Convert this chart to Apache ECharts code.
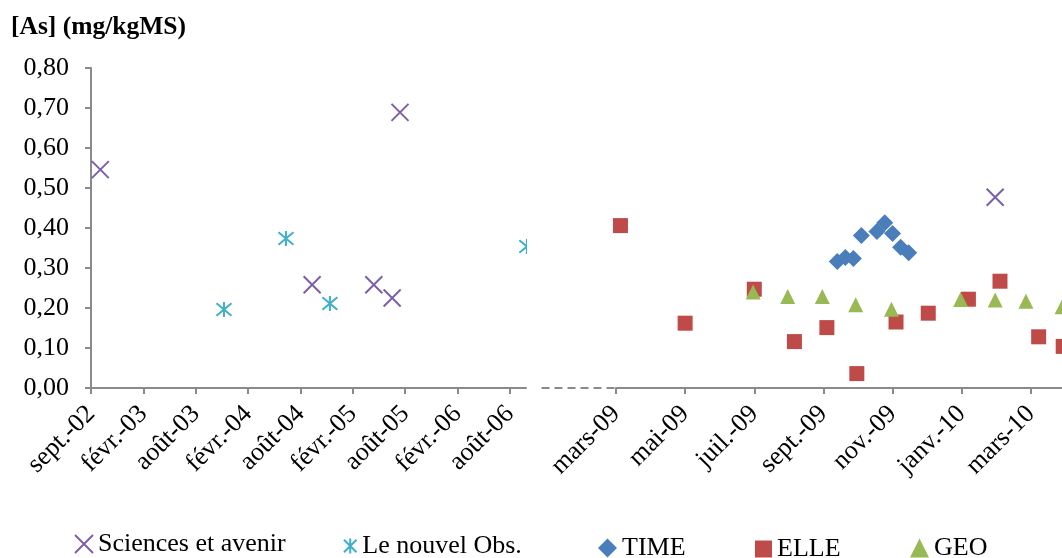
<!DOCTYPE html>
<html>
<head>
<meta charset="utf-8">
<script src="https://cdn.jsdelivr.net/npm/echarts@6/dist/echarts.min.js"></script>
<style>
html,body{margin:0;padding:0;background:#fff;}
#chart{width:1062px;height:558px;}
</style>
</head>
<body>
<div id="chart"></div>
<script>
// ---- data ----
const leftTickDays = [0, 180, 360, 540, 720, 900, 1080, 1260, 1440];
const leftTickLabels = ['sept.-02', 'févr.-03', 'août-03', 'févr.-04', 'août-04', 'févr.-05', 'août-05', 'févr.-06', 'août-06'];
const rightTickMonths = [0, 2, 4, 6, 8, 10, 12];
const rightTickLabels = ['mars-09', 'mai-09', 'juil.-09', 'sept.-09', 'nov.-09', 'janv.-10', 'mars-10'];

const sciencesLeftDates = ['2002-10-03', '2004-09-30', '2005-04-30', '2005-07-02', '2005-07-29'];
const sciencesLeftValues = [0.546, 0.258, 0.258, 0.225, 0.689];
const sciencesRightDates = ['2010-01-31'];
const sciencesRightValues = [0.477];

const nouvelObsDates = ['2003-12-02', '2004-07-02', '2004-11-30', '2006-10-08'];
const nouvelObsValues = [0.196, 0.374, 0.211, 0.354];

const timeDates = ['2009-09-13', '2009-09-20', '2009-09-27', '2009-10-04', '2009-10-18', '2009-10-25', '2009-11-01', '2009-11-08', '2009-11-15'];
const timeValues = [0.316, 0.326, 0.324, 0.381, 0.391, 0.413, 0.386, 0.352, 0.338];

const elleDates = ['2009-03-05', '2009-05-01', '2009-07-01', '2009-08-06', '2009-09-04', '2009-09-30', '2009-11-04', '2009-12-02', '2010-01-07', '2010-02-04', '2010-03-08', '2010-03-30'];
const elleValues = [0.406, 0.162, 0.247, 0.116, 0.151, 0.036, 0.165, 0.187, 0.222, 0.267, 0.128, 0.104];

const geoDates = ['2009-06-30', '2009-07-31', '2009-08-31', '2009-09-29', '2009-10-31', '2009-12-31', '2010-01-31', '2010-02-25', '2010-03-29'];
const geoValues = [0.240, 0.229, 0.229, 0.208, 0.197, 0.221, 0.220, 0.217, 0.203];

// ---- helpers ----
const LEFT_ORIGIN = Date.UTC(2002, 8, 1);
function leftDay(s) {
  const [y, m, d] = s.split('-').map(Number);
  return (Date.UTC(y, m - 1, d) - LEFT_ORIGIN) / 86400000;
}
function rightMonth(s) {
  const [y, m, d] = s.split('-').map(Number);
  const dim = new Date(Date.UTC(y, m, 0)).getUTCDate();
  return (y - 2009) * 12 + (m - 3) + (d - 1) / dim;
}
function pairs(dates, values, fn) {
  return dates.map((d, i) => [fn(d), values[i]]);
}

const FONT = 'Liberation Serif';
const AXIS_COLOR = '#8a8a8a';
const C_SCI = '#7E5FA6', C_OBS = '#3FAFCB', C_TIME = '#4A7EBB', C_ELLE = '#BE4B48', C_GEO = '#98B954';
const X_PATH = 'path://M0,0L10,10M10,0L0,10';
const AST_PATH = 'path://M0,0L10,10M10,0L0,10M5,-1L5,11';

const GRID_TOP = 68, GRID_H = 320;

const chart = echarts.init(document.getElementById('chart'), null, {renderer: 'canvas'});

function legendFor(name, left, top, w, h) {
  return {
    data: [name], left: left, top: top, orient: 'horizontal',
    itemWidth: w, itemHeight: h, padding: 0, selectedMode: false,
    itemStyle: {opacity: 1},
    textStyle: {fontFamily: FONT, fontSize: 26, color: '#000'}
  };
}

const xAxisCommon = {
  type: 'value',
  axisLine: {show: true, onZero: false, lineStyle: {color: AXIS_COLOR, width: 2}},
  splitLine: {show: false},
  axisTick: {show: true, length: 6, lineStyle: {color: AXIS_COLOR, width: 2}},
  axisLabel: {rotate: 45, margin: 22, fontFamily: FONT, fontSize: 26, color: '#000', showMinLabel: true, showMaxLabel: true}
};

const option = {
  backgroundColor: '#fff',
  animation: false,
  title: {
    text: '[As] (mg/kgMS)', left: 11, top: 14, padding: 0,
    textStyle: {fontFamily: FONT, fontSize: 25.5, fontWeight: 'bold', color: '#000'}
  },
  grid: [
    {left: 91, top: GRID_TOP, width: 435, height: GRID_H, outerBoundsMode: 'none', containLabel: false},
    {left: 616, top: GRID_TOP, width: 484, height: GRID_H, outerBoundsMode: 'none', containLabel: false}
  ],
  xAxis: [
    Object.assign({}, xAxisCommon, {
      gridIndex: 0, min: 0, max: 1495,
      axisTick: Object.assign({}, xAxisCommon.axisTick, {customValues: leftTickDays}),
      axisLabel: Object.assign({}, xAxisCommon.axisLabel, {
        customValues: leftTickDays,
        formatter: v => { const i = leftTickDays.indexOf(Math.round(v)); return i >= 0 ? leftTickLabels[i] : ''; }
      })
    }),
    Object.assign({}, xAxisCommon, {
      gridIndex: 1, min: 0, max: 14,
      axisTick: Object.assign({}, xAxisCommon.axisTick, {customValues: rightTickMonths}),
      axisLabel: Object.assign({}, xAxisCommon.axisLabel, {
        customValues: rightTickMonths,
        formatter: v => { const i = rightTickMonths.indexOf(Math.round(v)); return i >= 0 ? rightTickLabels[i] : ''; }
      })
    })
  ],
  yAxis: [
    {
      type: 'value', gridIndex: 0, min: 0, max: 0.8, interval: 0.1,
      axisLine: {show: true, lineStyle: {color: AXIS_COLOR, width: 2}},
      axisTick: {show: true, length: 6, lineStyle: {color: AXIS_COLOR, width: 2}},
      splitLine: {show: false},
      axisLabel: {margin: 22, fontFamily: FONT, fontSize: 26, color: '#000',
        formatter: v => v.toFixed(2).replace('.', ',')}
    },
    {type: 'value', gridIndex: 1, min: 0, max: 0.8, show: false, splitLine: {show: false}}
  ],
  legend: [
    legendFor('Sciences et avenir', 74, 531, 18, 18),
    legendFor('Le nouvel Obs.', 343, 533, 14, 15),
    legendFor('TIME', 598, 535, 19, 19),
    legendFor('ELLE', 755, 536, 17, 17),
    legendFor('GEO', 910, 535, 19, 19)
  ],
  series: [
    {
      name: 'Sciences et avenir', type: 'scatter', xAxisIndex: 0, yAxisIndex: 0,
      symbol: X_PATH, symbolSize: 17, clip: false,
      itemStyle: {color: 'rgba(0,0,0,0)', borderColor: C_SCI, borderWidth: 2, opacity: 1},
      data: pairs(sciencesLeftDates, sciencesLeftValues, leftDay)
    },
    {
      name: 'Le nouvel Obs.', type: 'scatter', xAxisIndex: 0, yAxisIndex: 0,
      symbol: AST_PATH, symbolSize: 15, clip: false,
      itemStyle: {color: 'rgba(0,0,0,0)', borderColor: C_OBS, borderWidth: 2, opacity: 1},
      data: pairs(nouvelObsDates, nouvelObsValues, leftDay)
    },
    {
      name: 'Sciences et avenir', type: 'scatter', xAxisIndex: 1, yAxisIndex: 1,
      symbol: X_PATH, symbolSize: 17,
      itemStyle: {color: 'rgba(0,0,0,0)', borderColor: C_SCI, borderWidth: 2, opacity: 1},
      data: pairs(sciencesRightDates, sciencesRightValues, rightMonth)
    },
    {
      name: 'TIME', type: 'scatter', xAxisIndex: 1, yAxisIndex: 1,
      symbol: 'diamond', symbolSize: 17,
      itemStyle: {color: C_TIME, opacity: 1},
      data: pairs(timeDates, timeValues, rightMonth)
    },
    {
      name: 'ELLE', type: 'scatter', xAxisIndex: 1, yAxisIndex: 1,
      symbol: 'rect', symbolSize: 15,
      itemStyle: {color: C_ELLE, opacity: 1},
      data: pairs(elleDates, elleValues, rightMonth)
    },
    {
      name: 'GEO', type: 'scatter', xAxisIndex: 1, yAxisIndex: 1,
      symbol: 'triangle', symbolSize: 15,
      itemStyle: {color: C_GEO, opacity: 1},
      data: pairs(geoDates, geoValues, rightMonth)
    }
  ],
  graphic: [
    // axis break: mask beyond the left plot area and dashed join
    {type: 'rect', z: 100, shape: {x: 527, y: 60, width: 14, height: 326}, style: {fill: '#fff'}},
    {type: 'line', z: 100, shape: {x1: 541.5, y1: 388, x2: 615, y2: 388},
     style: {stroke: AXIS_COLOR, lineWidth: 2, lineDash: [8, 5]}}
  ]
};
chart.setOption(option);
</script>
</body>
</html>
